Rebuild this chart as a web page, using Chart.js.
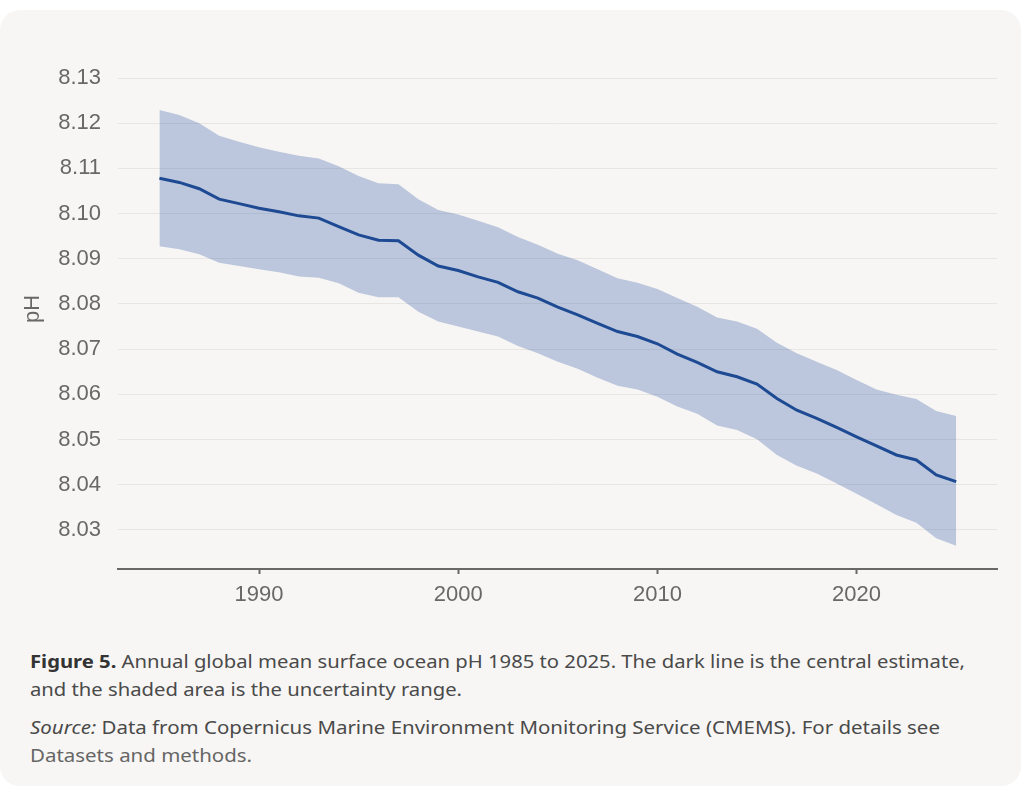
<!DOCTYPE html>
<html>
<head>
<meta charset="utf-8">
<title>Annual global mean surface ocean pH</title>
<script src="https://cdn.jsdelivr.net/npm/chart.js@4.4.1/dist/chart.umd.min.js"></script>
<style>
  html, body { margin: 0; padding: 0; background: #ffffff; }
  body { width: 1023px; height: 788px; position: relative; overflow: hidden; }
  .card {
    position: absolute; left: 0; top: 10px; width: 1021px; height: 776px;
    background: #f7f6f4; border-radius: 20px;
  }
  #chartWrap { position: absolute; left: 0; top: 0; width: 1023px; height: 620px; }
  .caption {
    position: absolute; left: 30px; top: 647px;
    font-family: "Noto Sans", "Open Sans", sans-serif; font-size: 18px;
    line-height: 28px; color: #4a4a4a; white-space: nowrap;
  }
  .caption p { margin: 0 0 10px 0; transform-origin: 0 0; }
  .caption b { color: #333; font-weight: 700; }
  .caption .link { color: #666; }
</style>
</head>
<body>
<div class="card"></div>
<div id="chartWrap"><canvas id="phChart" width="1023" height="620"></canvas></div>
<div class="caption">
  <p id="cap1"><b>Figure 5.</b> Annual global mean surface ocean pH 1985 to 2025. The dark line is the central estimate,<br>and the shaded area is the uncertainty range.</p>
  <p id="cap2"><i>Source:</i> Data from Copernicus Marine Environment Monitoring Service (CMEMS). For details see<br><span class="link">Datasets and methods.</span></p>
</div>
<script>
// Years covered by the series
const years = [
  1985, 1986, 1987, 1988, 1989, 1990, 1991, 1992, 1993, 1994,
  1995, 1996, 1997, 1998, 1999, 2000, 2001, 2002, 2003, 2004,
  2005, 2006, 2007, 2008, 2009, 2010, 2011, 2012, 2013, 2014,
  2015, 2016, 2017, 2018, 2019, 2020, 2021, 2022, 2023, 2024, 2025
];

// Central estimate of surface ocean pH
const centralPH = [
  8.1078, 8.1069, 8.1055, 8.1032, 8.1022, 8.1012, 8.1004, 8.0995, 8.0990, 8.0971,
  8.0953, 8.0941, 8.0940, 8.0908, 8.0884, 8.0874, 8.0860, 8.0848, 8.0827, 8.0813,
  8.0793, 8.0776, 8.0757, 8.0739, 8.0728, 8.0712, 8.0689, 8.0671, 8.0650, 8.0639,
  8.0623, 8.0591, 8.0565, 8.0547, 8.0527, 8.0506, 8.0486, 8.0466, 8.0455, 8.0422, 8.0407
];

// Upper edge of the uncertainty range
const upperPH = [
  8.1229, 8.1218, 8.1200, 8.1172, 8.1159, 8.1147, 8.1137, 8.1128, 8.1122, 8.1105,
  8.1083, 8.1067, 8.1065, 8.1032, 8.1008, 8.0998, 8.0984, 8.0970, 8.0948, 8.0931,
  8.0911, 8.0897, 8.0877, 8.0857, 8.0847, 8.0833, 8.0813, 8.0794, 8.0770, 8.0761,
  8.0745, 8.0714, 8.0691, 8.0672, 8.0654, 8.0632, 8.0611, 8.0599, 8.0590, 8.0563, 8.0552
];

// Lower edge of the uncertainty range
const lowerPH = [
  8.0928, 8.0921, 8.0910, 8.0891, 8.0884, 8.0877, 8.0870, 8.0861, 8.0858, 8.0846,
  8.0825, 8.0815, 8.0815, 8.0783, 8.0761, 8.0750, 8.0739, 8.0728, 8.0707, 8.0691,
  8.0672, 8.0657, 8.0637, 8.0619, 8.0611, 8.0595, 8.0573, 8.0557, 8.0531, 8.0521,
  8.0501, 8.0466, 8.0442, 8.0425, 8.0403, 8.0380, 8.0357, 8.0333, 8.0316, 8.0282, 8.0265
];

// Axis tick values
const xTickYears = [1990, 2000, 2010, 2020];
const yTickValues = [8.03, 8.04, 8.05, 8.06, 8.07, 8.08, 8.09, 8.10, 8.11, 8.12, 8.13];

const toPoints = vals => years.map((yr, i) => ({ x: yr, y: vals[i] }));

const TICK_FONT = { family: '"Liberation Sans", Arial, sans-serif', size: 22 };
const TICK_COLOR = '#686868';

// Rotated "pH" axis title
const axisTitle = {
  id: 'axisTitle',
  afterDraw(chart) {
    const c = chart.ctx;
    c.save();
    c.translate(33, 309);
    c.rotate(-Math.PI / 2);
    c.font = '22px "Liberation Sans", Arial, sans-serif';
    c.fillStyle = TICK_COLOR;
    c.textAlign = 'center';
    c.textBaseline = 'middle';
    c.fillText('pH', 0, 0);
    c.restore();
  }
};

new Chart(document.getElementById('phChart'), {
  type: 'line',
  data: {
    datasets: [
      {
        label: 'Lower bound',
        data: toPoints(lowerPH),
        borderColor: 'transparent',
        borderWidth: 0,
        pointRadius: 0,
        fill: false,
        order: 2
      },
      {
        label: 'Upper bound',
        data: toPoints(upperPH),
        borderColor: 'transparent',
        borderWidth: 0,
        pointRadius: 0,
        backgroundColor: 'rgba(30, 75, 160, 0.27)',
        fill: '-1',
        order: 2
      },
      {
        label: 'Central estimate',
        data: toPoints(centralPH),
        borderColor: '#1d4a93',
        borderWidth: 3,
        pointRadius: 0,
        tension: 0,
        fill: false,
        order: 1
      }
    ]
  },
  options: {
    responsive: false,
    animation: false,
    events: [],
    layout: { padding: { left: 0, right: 26, top: 78, bottom: 0 } },
    plugins: { legend: { display: false }, tooltip: { enabled: false } },
    scales: {
      x: {
        type: 'linear',
        min: 1982.92,
        max: 2027.05,
        afterBuildTicks: s => { s.ticks = xTickYears.map(v => ({ value: v })); },
        afterFit: s => { s.height = 51; },
        grid: { drawOnChartArea: false, drawTicks: true, tickLength: 5, tickColor: TICK_COLOR, tickWidth: 2 },
        border: { display: true, color: TICK_COLOR, width: 2 },
        ticks: { color: TICK_COLOR, font: TICK_FONT, padding: 8, maxRotation: 0, callback: v => String(v) }
      },
      y: {
        min: 8.02137,
        max: 8.13,
        afterBuildTicks: s => { s.ticks = yTickValues.map(v => ({ value: v })); },
        afterFit: s => { s.width = 118; },
        grid: { color: '#e7e6e3', lineWidth: 1, drawTicks: false },
        border: { display: false },
        ticks: { color: TICK_COLOR, font: TICK_FONT, padding: 17, callback: v => v.toFixed(2) }
      }
    }
  },
  plugins: [axisTitle]
});

// Fit each caption paragraph's first line to its column width
(function fitCaption() {
  const targets = { cap1: 935, cap2: 910 };
  Object.keys(targets).forEach(id => {
    const p = document.getElementById(id);
    const range = document.createRange();
    range.setStart(p, 0);
    const br = p.querySelector('br');
    range.setEndBefore(br);
    const w = range.getBoundingClientRect().width;
    if (w > 0) p.style.transform = 'scaleX(' + (targets[id] / w).toFixed(4) + ')';
  });
})();
</script>
</body>
</html>
